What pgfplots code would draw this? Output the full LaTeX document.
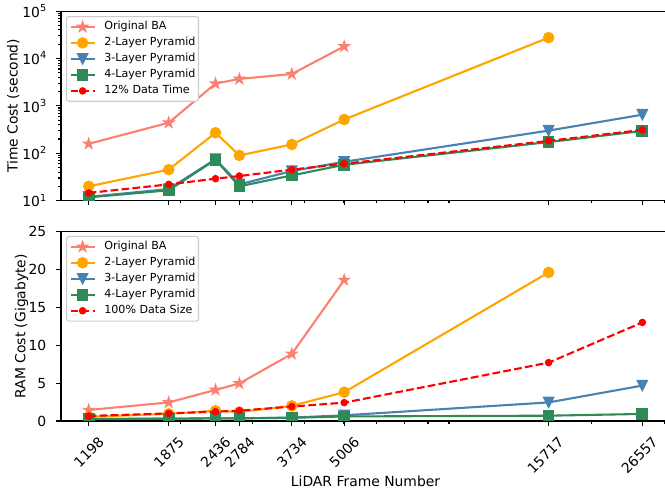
\documentclass[border=0pt]{standalone}
\usepackage{fontspec}
\setmainfont{DejaVu Sans}
\usepackage{pgfplots}
\pgfplotsset{compat=1.18}
\usetikzlibrary{plotmarks}

\definecolor{salmon}{HTML}{FA8072}
\definecolor{morange}{HTML}{FFA500}
\definecolor{steel}{HTML}{4682B4}
\definecolor{sea}{HTML}{2E8B57}
\definecolor{mred}{HTML}{FF0000}
\definecolor{legedge}{HTML}{CCCCCC}

\newcommand\tickfont{\fontsize{13.9bp}{16bp}\selectfont}
\newcommand\legfont{\fontsize{11.1bp}{13bp}\selectfont}
\newcommand\tp[1]{10\raisebox{0.42em}{\fontsize{9.7bp}{10bp}\selectfont #1}}

\pgfdeclareplotmark{mstar}{%
  \pgfmathsetmacro\rin{0.381966*\pgfplotmarksize}%
  \pgfpathmoveto{\pgfpointpolar{90}{\pgfplotmarksize}}%
  \pgfpathlineto{\pgfpointpolar{126}{\rin pt}}%
  \pgfpathlineto{\pgfpointpolar{162}{\pgfplotmarksize}}%
  \pgfpathlineto{\pgfpointpolar{198}{\rin pt}}%
  \pgfpathlineto{\pgfpointpolar{234}{\pgfplotmarksize}}%
  \pgfpathlineto{\pgfpointpolar{270}{\rin pt}}%
  \pgfpathlineto{\pgfpointpolar{306}{\pgfplotmarksize}}%
  \pgfpathlineto{\pgfpointpolar{342}{\rin pt}}%
  \pgfpathlineto{\pgfpointpolar{18}{\pgfplotmarksize}}%
  \pgfpathlineto{\pgfpointpolar{54}{\rin pt}}%
  \pgfpathclose\pgfusepathqfillstroke}
\pgfdeclareplotmark{mtri}{%
  \pgfpathmoveto{\pgfqpoint{0pt}{-\pgfplotmarksize}}%
  \pgfpathlineto{\pgfqpoint{-\pgfplotmarksize}{\pgfplotmarksize}}%
  \pgfpathlineto{\pgfqpoint{\pgfplotmarksize}{\pgfplotmarksize}}%
  \pgfpathclose\pgfusepathqfillstroke}

\pgfplotsset{
  sBA/.style={color=salmon, line width=2.1bp, mark=mstar, mark size=5.5bp, mark options={solid, fill=salmon, draw=salmon, line width=1.1bp}},
  s2/.style={color=morange, line width=2.1bp, mark=*, mark size=5.2bp, mark options={solid, fill=morange, draw=morange, line width=1.1bp}},
  s3/.style={color=steel, line width=2.1bp, mark=mtri, mark size=5.2bp, mark options={solid, fill=steel, draw=steel, line width=1.1bp}},
  s4/.style={color=sea, line width=2.1bp, mark=square*, mark size=5.3bp, mark options={solid, fill=sea, draw=sea, line width=1.1bp}},
  sR/.style={color=mred, line width=2.1bp, dash pattern=on 7.7bp off 3.3bp, mark=*, mark size=3.2bp, mark options={solid, fill=mred, draw=mred, line width=1.1bp}},
}

\begin{document}
\begin{tikzpicture}[x=1bp,y=1bp]
% top axis
\begin{axis}[
    scale only axis, width=609bp, height=189.5bp,
    at={(61bp,290.4bp)}, anchor=south west,
    xmode=log, xmin=1026, xmax=31010,
    xtick={1198,1875,2436,2784,3734,5006,15717,26557},
    minor xtick={2000,3000,4000,5000,6000,7000,8000,9000,20000,30000},
    tick align=outside, tick pos=left,
    major tick length=4.86bp, minor tick length=2.78bp,
    every tick/.style={black, line width=1.1bp},
    axis line style={line width=1.1bp},
    clip marker paths=true,
    yticklabel style={font=\tickfont, anchor=east, inner sep=0pt, xshift=-9.7bp},
    ylabel style={font=\tickfont, anchor=center},
    legend cell align=left,
    legend style={font=\legfont, draw=legedge, line width=1.1bp, rounded corners=2.5bp,
      fill=white, inner xsep=3bp, inner ysep=3.5bp, row sep=2.3bp, column sep=8.7bp,
      anchor=north west,
      nodes={inner sep=0pt, text height=9.7bp, text depth=4bp}},
    legend image code/.code={\draw[mark repeat=2,mark phase=2,#1] plot coordinates {(0bp,0bp) (12bp,0bp) (24bp,0bp)};},
    ymode=log, ymin=10, ymax=100000,
    ytick={10,100,1000,10000,100000},
    yticklabels={\tp{1},\tp{2},\tp{3},\tp{4},\tp{5}},
    minor ytick={20,30,40,50,60,70,80,90,200,300,400,500,600,700,800,900,2000,3000,4000,5000,6000,7000,8000,9000,20000,30000,40000,50000,60000,70000,80000,90000},
    xticklabels={},
    ylabel={Time Cost (second)},
    ylabel style={at={(axis description cs:-0.0783,0.5)}},
    legend style={at={(axis description cs:0.0082,0.974)}},
  ]
  \addplot[sBA] coordinates {(1198,158) (1875,440) (2436,2950) (2784,3700) (3734,4700) (5006,18000)};
  \addlegendentry{Original BA}
  \addplot[s2] coordinates {(1198,20) (1875,45) (2436,270) (2784,90) (3734,153) (5006,515) (15717,27500)};
  \addlegendentry{2-Layer Pyramid}
  \addplot[s3] coordinates {(1198,12) (1875,17.5) (2436,75) (2784,22) (3734,42) (5006,66) (15717,300) (26557,650)};
  \addlegendentry{3-Layer Pyramid}
  \addplot[s4] coordinates {(1198,11.7) (1875,16.5) (2436,73) (2784,20) (3734,34) (5006,57) (15717,172) (26557,295)};
  \addlegendentry{4-Layer Pyramid}
  \addplot[sR] coordinates {(1198,14.5) (1875,22) (2436,29) (2784,33) (3734,45) (5006,60) (15717,182) (26557,310)};
  \addlegendentry{12\% Data Time}
\end{axis}
% bottom axis
\begin{axis}[
    scale only axis, width=609bp, height=189.5bp,
    at={(61bp,70bp)}, anchor=south west,
    xmode=log, xmin=1026, xmax=31010,
    xtick={1198,1875,2436,2784,3734,5006,15717,26557},
    minor xtick={2000,3000,4000,5000,6000,7000,8000,9000,20000,30000},
    tick align=outside, tick pos=left,
    major tick length=4.86bp, minor tick length=2.78bp,
    every tick/.style={black, line width=1.1bp},
    axis line style={line width=1.1bp},
    clip marker paths=true,
    yticklabel style={font=\tickfont, anchor=east, inner sep=0pt, xshift=-9.7bp},
    ylabel style={font=\tickfont, anchor=center},
    legend cell align=left,
    legend style={font=\legfont, draw=legedge, line width=1.1bp, rounded corners=2.5bp,
      fill=white, inner xsep=3bp, inner ysep=3.5bp, row sep=2.3bp, column sep=8.7bp,
      anchor=north west,
      nodes={inner sep=0pt, text height=9.7bp, text depth=4bp}},
    legend image code/.code={\draw[mark repeat=2,mark phase=2,#1] plot coordinates {(0bp,0bp) (12bp,0bp) (24bp,0bp)};},
    ymin=0, ymax=25, ytick={0,5,10,15,20,25},
    /pgf/number format/assume math mode=true,
    xticklabels={1198,1875,2436,2784,3734,5006,15717,26557},
    xticklabel style={font=\tickfont, inner sep=0pt, anchor=north east, xshift=8.9bp, yshift=-9.7bp, rotate=45},
    ylabel={RAM Cost (Gigabyte)},
    ylabel style={at={(axis description cs:-0.065,0.5)}},
    xlabel={LiDAR Frame Number},
    xlabel style={font=\tickfont, at={(axis description cs:0.5,-0.348)}, anchor=base},
    legend style={at={(axis description cs:0.0082,0.977)}},
  ]
  \addplot[sBA] coordinates {(1198,1.45) (1875,2.45) (2436,4.1) (2784,4.95) (3734,8.85) (5006,18.6)};
  \addlegendentry{Original BA}
  \addplot[s2] coordinates {(1198,0.55) (1875,0.95) (2436,1.35) (2784,1.2) (3734,2.0) (5006,3.8) (15717,19.6)};
  \addlegendentry{2-Layer Pyramid}
  \addplot[s3] coordinates {(1198,0.25) (1875,0.3) (2436,0.35) (2784,0.35) (3734,0.45) (5006,0.75) (15717,2.45) (26557,4.67)};
  \addlegendentry{3-Layer Pyramid}
  \addplot[s4] coordinates {(1198,0.28) (1875,0.3) (2436,0.35) (2784,0.35) (3734,0.42) (5006,0.6) (15717,0.7) (26557,0.93)};
  \addlegendentry{4-Layer Pyramid}
  \addplot[sR] coordinates {(1198,0.66) (1875,1.0) (2436,1.23) (2784,1.36) (3734,1.9) (5006,2.42) (15717,7.7) (26557,13.0)};
  \addlegendentry{100\% Data Size}
\end{axis}
\pgfresetboundingbox
\useasboundingbox (0,0) rectangle (665,491);
\end{tikzpicture}
\end{document}
